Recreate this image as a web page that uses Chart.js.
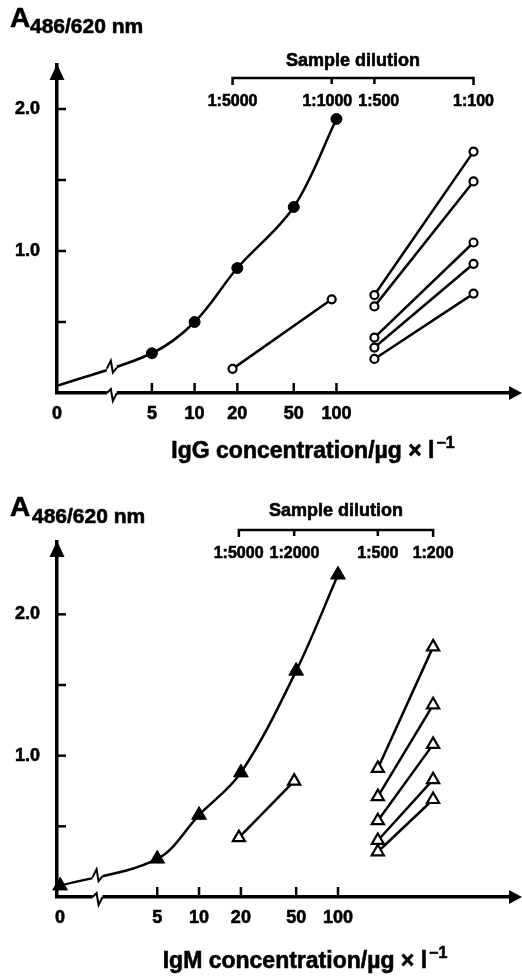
<!DOCTYPE html>
<html><head><meta charset="utf-8">
<script src="https://cdn.jsdelivr.net/npm/chart.js@4"></script>
<style>
html,body{margin:0;padding:0;background:#fff;}
.panel{position:absolute;left:0;width:522px;height:488px;}
canvas{display:block;}
</style></head>
<body>
<div class="panel" style="top:0"><canvas id="c1" width="522" height="488"></canvas></div>
<div class="panel" style="top:488px"><canvas id="c2" width="522" height="488"></canvas></div>
<script>
// ---------------- data ----------------
const CONC_TICKS = [0, 5, 10, 20, 50, 100];          // µg/l, "0" sits before the axis break
const ABS_TICKS = [0.5, 1.0, 1.5, 2.0];
const ABS_TICK_LABELS = ['', '1.0', '', '2.0'];

// IgG panel
const IGG_STD_CONC = [0, 5, 10, 20, 50, 100];
const IGG_STD_ABS  = [0.05, 0.28, 0.50, 0.88, 1.31, 1.93];
const IGG_DIL_TICKS = [5000, 1000, 500, 100];
const IGG_REF_DIL = [5000, 1000];
const IGG_REF_ABS = [0.17, 0.66];
const IGG_SAMPLE_DIL = [500, 100];
const IGG_SAMPLES_AT_500 = [0.69, 0.61, 0.39, 0.32, 0.24];
const IGG_SAMPLES_AT_100 = [1.70, 1.49, 1.06, 0.91, 0.70];

// IgM panel
const IGM_STD_CONC = [0, 5, 10, 20, 50, 100];
const IGM_STD_ABS  = [0.08, 0.27, 0.58, 0.88, 1.60, 2.28];
const IGM_DIL_TICKS = [5000, 2000, 500, 200];
const IGM_REF_DIL = [5000, 2000];
const IGM_REF_ABS = [0.42, 0.82];
const IGM_SAMPLE_DIL = [500, 200];
const IGM_SAMPLES_AT_500 = [0.91, 0.71, 0.54, 0.40, 0.32];
const IGM_SAMPLES_AT_200 = [1.77, 1.36, 1.08, 0.83, 0.69];

// ---------------- layout / style ----------------
const FONT = '"Liberation Sans", Arial, Helvetica, sans-serif';
const TEXT_STROKE = 0.6;
Chart.defaults.font.family = FONT;
Chart.defaults.font.weight = 'bold';
Chart.defaults.color = '#000';

const PANELS = [
  {
    canvas: 'c1',
    stdConc: IGG_STD_CONC, stdAbs: IGG_STD_ABS,
    refDil: IGG_REF_DIL, refAbs: IGG_REF_ABS,
    sampleDil: IGG_SAMPLE_DIL, samplesLow: IGG_SAMPLES_AT_500, samplesHigh: IGG_SAMPLES_AT_100,
    dilTicks: IGG_DIL_TICKS,
    xTitle: 'IgG concentration/\u00b5g \u00d7 l',
    marker: 'circle', zeroMarker: false,
    padTop: 65, xAxisH: 95, xMin: 1.0714, xMax: 1829, zeroAt: 1.0714, breakAt: 2.61,
    dMin: 50.6, dMax: 86440, yMax: 2.31,
    bracketY: 78, dilLabelY: 106, dilTitleY: 66,
    aX: 10, aBase: 27, subX: 29, subBase: 33,
    xTitleCx: 313, xTitleBase: 458
  },
  {
    canvas: 'c2',
    stdConc: IGM_STD_CONC, stdAbs: IGM_STD_ABS,
    refDil: IGM_REF_DIL, refAbs: IGM_REF_ABS,
    sampleDil: IGM_SAMPLE_DIL, samplesLow: IGM_SAMPLES_AT_500, samplesHigh: IGM_SAMPLES_AT_200,
    dilTicks: IGM_DIL_TICKS,
    xTitle: 'IgM concentration/\u00b5g \u00d7 l',
    marker: 'triangle', zeroMarker: true,
    padTop: 54, xAxisH: 79, xMin: 0.9496, xMax: 1803, zeroAt: 1.0, breakAt: 1.86,
    dMin: 53.65, dMax: 101900, yMax: 2.512,
    bracketY: 42, dilLabelY: 70, dilTitleY: 28,
    aX: 10, aBase: 28, subX: 31, subBase: 35,
    xTitleCx: 305, xTitleBase: 480
  }
];

function curveYAt(chart, dsIndex, px) {
  const pts = chart.getDatasetMeta(dsIndex).data;
  for (let i = 0; i < pts.length - 1; i++) {
    const a = pts[i], b = pts[i + 1];
    if (px >= a.x && px <= b.x) {
      const P0 = [a.x, a.y], P3 = [b.x, b.y];
      const P1 = [a.cp2x ?? a.x, a.cp2y ?? a.y], P2 = [b.cp1x ?? b.x, b.cp1y ?? b.y];
      const bz = (t, k) => { const u = 1 - t; return u*u*u*P0[k] + 3*u*u*t*P1[k] + 3*u*t*t*P2[k] + t*t*t*P3[k]; };
      let lo = 0, hi = 1;
      for (let n = 0; n < 40; n++) { const m = (lo + hi) / 2; if (bz(m, 0) < px) lo = m; else hi = m; }
      return bz((lo + hi) / 2, 1);
    }
  }
  return null;
}

function drawBreak(ctx, x, y, up) {
  ctx.save();
  ctx.fillStyle = '#fff';
  ctx.fillRect(x - 5, y - 3, 10, 6);
  ctx.strokeStyle = '#000';
  ctx.lineWidth = 2;
  ctx.lineJoin = 'miter';
  ctx.beginPath();
  if (up) {
    ctx.moveTo(x - 5, y); ctx.lineTo(x - 1, y - 8); ctx.lineTo(x + 1, y + 4); ctx.lineTo(x + 5, y - 1);
  } else {
    ctx.moveTo(x - 5, y); ctx.lineTo(x - 1, y - 4); ctx.lineTo(x + 1, y + 8); ctx.lineTo(x + 5, y);
  }
  ctx.stroke();
  ctx.restore();
}

function boldText(ctx, text, x, y) {
  ctx.fillText(text, x, y);
  ctx.lineWidth = TEXT_STROKE;
  ctx.strokeText(text, x, y);
}

function makeDecor(p) {
  return {
    id: 'decor',
    afterDraw(chart) {
      const ctx = chart.ctx;
      const area = chart.chartArea;
      const xs = chart.scales.x, ys = chart.scales.y, xd = chart.scales.xd;
      ctx.save();
      ctx.fillStyle = '#000';
      ctx.strokeStyle = '#000';

      // inward tick marks
      ctx.lineWidth = 2.5;
      ABS_TICKS.forEach(v => {
        const py = ys.getPixelForValue(v);
        ctx.beginPath(); ctx.moveTo(area.left, py); ctx.lineTo(area.left + 9, py); ctx.stroke();
      });
      CONC_TICKS.filter(c => c > 0).forEach(c => {
        const px = xs.getPixelForValue(c);
        ctx.beginPath(); ctx.moveTo(px, area.bottom); ctx.lineTo(px, area.bottom - 10); ctx.stroke();
      });

      // axis arrows
      ctx.beginPath();
      ctx.moveTo(area.left, area.top - 1);
      ctx.lineTo(area.left - 7.5, area.top + 15);
      ctx.lineTo(area.left + 7.5, area.top + 15);
      ctx.closePath(); ctx.fill();
      const W = chart.width;
      ctx.beginPath();
      ctx.moveTo(W, area.bottom);
      ctx.lineTo(W - 13, area.bottom - 7);
      ctx.lineTo(W - 13, area.bottom + 7);
      ctx.closePath(); ctx.fill();

      // axis breaks
      const bx = xs.getPixelForValue(p.breakAt);
      drawBreak(ctx, bx, area.bottom, false);
      const cy = curveYAt(chart, 0, bx);
      if (cy !== null) drawBreak(ctx, bx, cy, true);

      // sample dilution scale (bracket)
      const pos = p.dilTicks.map(d => xd.getPixelForValue(d));
      const x0 = pos[0], x1 = pos[pos.length - 1];
      ctx.lineWidth = 2.5;
      ctx.beginPath();
      ctx.moveTo(x0, p.bracketY + 7); ctx.lineTo(x0, p.bracketY);
      ctx.lineTo(x1, p.bracketY); ctx.lineTo(x1, p.bracketY + 7);
      ctx.stroke();
      for (let i = 1; i < pos.length - 1; i++) {
        ctx.beginPath(); ctx.moveTo(pos[i], p.bracketY); ctx.lineTo(pos[i], p.bracketY + 6); ctx.stroke();
      }
      ctx.font = 'bold 16px ' + FONT;
      ctx.textAlign = 'center';
      ctx.textBaseline = 'alphabetic';
      const labels = p.dilTicks.map(d => '1:' + d);
      const widths = labels.map(l => ctx.measureText(l).width);
      const cx = pos.slice();
      for (let it = 0; it < 10; it++) {
        for (let i = 0; i < cx.length - 1; i++) {
          const need = (widths[i] + widths[i + 1]) / 2 + 6;
          const gap = cx[i + 1] - cx[i];
          if (gap < need) { const d = (need - gap) / 2; cx[i] -= d; cx[i + 1] += d; }
        }
      }
      labels.forEach((l, i) => boldText(ctx, l, cx[i], p.dilLabelY));
      ctx.font = 'bold 18px ' + FONT;
      boldText(ctx, 'Sample dilution', (x0 + x1) / 2, p.dilTitleY);

      // y title: A with subscript
      ctx.textAlign = 'left';
      ctx.font = 'bold 28px ' + FONT;
      boldText(ctx, 'A', p.aX, p.aBase);
      ctx.font = 'bold 21px ' + FONT;
      boldText(ctx, '486/620 nm', p.subX + 1, p.subBase);

      // x title with superscript
      ctx.font = 'bold 23px ' + FONT;
      const w1 = ctx.measureText(p.xTitle).width;
      ctx.font = 'bold 16px ' + FONT;
      const sup = '\u22121';
      const w2 = ctx.measureText(sup).width;
      const start = p.xTitleCx - (w1 + w2 + 2) / 2;
      ctx.font = 'bold 23px ' + FONT;
      boldText(ctx, p.xTitle, start, p.xTitleBase);
      ctx.font = 'bold 16px ' + FONT;
      boldText(ctx, sup, start + w1 + 2, p.xTitleBase - 10);

      ctx.restore();
    }
  };
}

function makeChart(p) {
  const filledRadius = p.marker === 'circle' ? 5.5 : 8.5;
  const openRadius = p.marker === 'circle' ? 4 : 7;
  const datasets = [];
  datasets.push({
    label: 'standard',
    xAxisID: 'x', yAxisID: 'y',
    data: p.stdConc.map((c, i) => ({ x: c === 0 ? p.zeroAt : c, y: p.stdAbs[i] })),
    borderColor: '#000', backgroundColor: '#000', borderWidth: 2.5,
    tension: 0.35,
    pointStyle: p.marker,
    pointRadius: ctx => (ctx.raw && ctx.raw.x === p.zeroAt && !p.zeroMarker) ? 0 : filledRadius,
    pointBackgroundColor: '#000', pointBorderColor: '#000', pointBorderWidth: 1,
    clip: false
  });
  datasets.push({
    label: 'reference',
    xAxisID: 'xd', yAxisID: 'y',
    data: p.refDil.map((d, i) => ({ x: d, y: p.refAbs[i] })),
    borderColor: '#000', backgroundColor: '#fff', borderWidth: 2.5,
    pointStyle: p.marker, pointRadius: openRadius,
    pointBackgroundColor: '#fff', pointBorderColor: '#000', pointBorderWidth: 2.2,
    clip: false
  });
  p.samplesLow.forEach((lo, i) => {
    datasets.push({
      label: 'sample ' + (i + 1),
      xAxisID: 'xd', yAxisID: 'y',
      data: [{ x: p.sampleDil[0], y: lo }, { x: p.sampleDil[1], y: p.samplesHigh[i] }],
      borderColor: '#000', backgroundColor: '#fff', borderWidth: 2.5,
      pointStyle: p.marker, pointRadius: openRadius,
      pointBackgroundColor: '#fff', pointBorderColor: '#000', pointBorderWidth: 2.2,
      clip: false
    });
  });

  const tickFont = { size: 18, weight: 'bold' };
  return new Chart(document.getElementById(p.canvas), {
    type: 'line',
    data: { datasets },
    options: {
      responsive: false,
      animation: false,
      devicePixelRatio: 1,
      events: [],
      layout: { padding: { top: p.padTop, right: 6, left: 0, bottom: 0 } },
      plugins: { legend: { display: false }, tooltip: { enabled: false } },
      scales: {
        x: {
          type: 'logarithmic', position: 'bottom', bounds: 'data',
          min: p.xMin, max: p.xMax,
          afterFit: s => { s.height = p.xAxisH; },
          afterBuildTicks: s => { s.ticks = CONC_TICKS.map(c => ({ value: c === 0 ? p.zeroAt : c })); },
          ticks: {
            autoSkip: false, maxRotation: 0, minRotation: 0, padding: 10,
            font: tickFont, color: '#000', textStrokeColor: '#000', textStrokeWidth: TEXT_STROKE,
            callback: v => (v === p.zeroAt ? '0' : String(v))
          },
          grid: { drawOnChartArea: false, drawTicks: false },
          border: { display: true, color: '#000', width: 3.5 }
        },
        xd: {
          axis: 'x', type: 'logarithmic', position: 'top', display: false, reverse: true, bounds: 'data',
          min: p.dMin, max: p.dMax
        },
        y: {
          type: 'linear', position: 'left', min: 0, max: p.yMax,
          afterFit: s => { s.width = 57; },
          afterBuildTicks: s => { s.ticks = ABS_TICKS.map(v => ({ value: v })); },
          ticks: {
            padding: 17, font: tickFont, color: '#000', textStrokeColor: '#000', textStrokeWidth: TEXT_STROKE,
            callback: v => ABS_TICK_LABELS[ABS_TICKS.indexOf(v)] ?? ''
          },
          grid: { drawOnChartArea: false, drawTicks: false },
          border: { display: true, color: '#000', width: 3.5 }
        }
      }
    },
    plugins: [makeDecor(p)]
  });
}

PANELS.forEach(makeChart);
</script>
</body></html>
